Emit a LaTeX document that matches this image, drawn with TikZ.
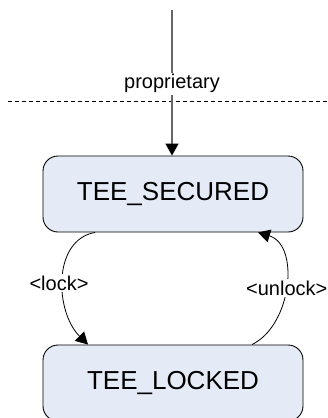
\documentclass[tikz,border=0pt]{standalone}
\usepackage{fontspec}
\setmainfont{Liberation Sans}
\usetikzlibrary{arrows.meta,calc}
\definecolor{statefill}{RGB}{228,235,247}
\tikzset{
  state/.style={draw=black, line width=0.9pt, fill=statefill, rounded corners=15pt,
    minimum width=260pt, minimum height=76pt, inner sep=0pt,
    font=\fontsize{26}{30}\selectfont},
  lbl/.style={fill=white, inner sep=1.5pt, font=\fontsize{20}{24}\selectfont},
  tip/.style={-{Triangle[length=12pt,width=13pt,color=black]}},
  conn/.style={draw=black, line width=0.8pt},
}
\begin{document}
\begin{tikzpicture}[x=1pt,y=-1pt]
\useasboundingbox (0,0) rectangle (328,418);
\node[state] (s) at (173,194) {TEE\_SECURED};
\node[state] (l) at (173,383) {TEE\_LOCKED};
\coordinate (dl) at (8,101);
\coordinate (dr) at (328,101);
\coordinate (top) at (172,10);
\draw[black, line width=0.8pt, dash pattern=on 4pt off 3pt] (dl) -- (dr);
\draw[tip, draw=black!60, line width=1.4pt] (top) -- node[lbl, pos=0.507] (p) {proprietary} (top |- s.north);
\draw[tip, conn] ($(s.south)+(-78,0)$) .. controls (52,240) and (55,312) .. ($(l.north)+(-85,0)$)
  node[lbl, pos=0.5, xshift=-4pt, yshift=-4pt] (lk) {<lock>};
\draw[tip, conn] ($(l.north)+(79,0)$) .. controls (292,325) and (300,245) .. ($(s.south)+(85,0)$)
  node[lbl, pos=0.5, xshift=1pt, yshift=-2pt] (ul) {<unlock>};
\end{tikzpicture}
\end{document}
